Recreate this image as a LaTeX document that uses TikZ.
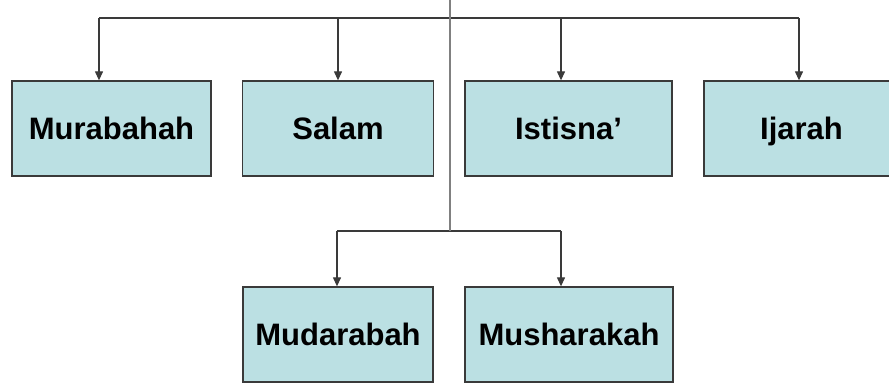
\documentclass[tikz,border=0pt]{standalone}
\usepackage{fontspec}
\setmainfont{Liberation Sans}
\usetikzlibrary{arrows.meta}
\definecolor{boxfill}{HTML}{BBE0E3}
\definecolor{boxline}{HTML}{3A3A3A}
\definecolor{trunk}{HTML}{808080}
\begin{document}
\begin{tikzpicture}[x=1pt,y=-1pt,
  boxnode/.style={draw=boxline,line width=1.3pt,fill=boxfill,inner sep=0pt,
    minimum height=95pt,text height=22pt,text depth=0pt,
    font=\fontsize{31}{36}\selectfont\bfseries},
  conn/.style={draw=boxline,line width=1.2pt},
  arr/.style={conn,-{Triangle[width=8pt,length=9pt]}}]
\useasboundingbox (0,0) rectangle (889,383);
% boxes
\node[boxnode,minimum width=199pt] (mur) at (111.5,128.5) {Murabahah};
\node[boxnode,minimum width=191pt] (sal) at (338,128.5) {Salam};
\node[boxnode,minimum width=207pt] (ist) at (568.5,128.5) {Istisna’};
\node[boxnode,minimum width=195pt] (ija) at (801.5,128.5) {Ijarah};
\node[boxnode,minimum width=190pt] (mud) at (338,334.5) {Mudarabah};
\node[boxnode,minimum width=208pt] (mus) at (569,334.5) {Musharakah};
% coordinates
\coordinate (top) at (449.5,0);
\coordinate (hub) at (449.5,231);
\coordinate (l1) at (99,18);
\coordinate (l2) at (338,18);
\coordinate (l3) at (561,18);
\coordinate (l4) at (799,18);
\coordinate (m1) at (337,231);
\coordinate (m2) at (561,231);
% connectors
\draw[conn] (l1) -- (l4);
\draw[arr] (l1) -- (l1 |- mur.north);
\draw[arr] (l2) -- (l2 |- sal.north);
\draw[arr] (l3) -- (l3 |- ist.north);
\draw[arr] (l4) -- (l4 |- ija.north);
\draw[conn] (m1) -- (m2);
\draw[arr] (m1) -- (m1 |- mud.north);
\draw[arr] (m2) -- (m2 |- mus.north);
\draw[draw=trunk,line width=2pt] (top) -- (hub);
\end{tikzpicture}
\end{document}
